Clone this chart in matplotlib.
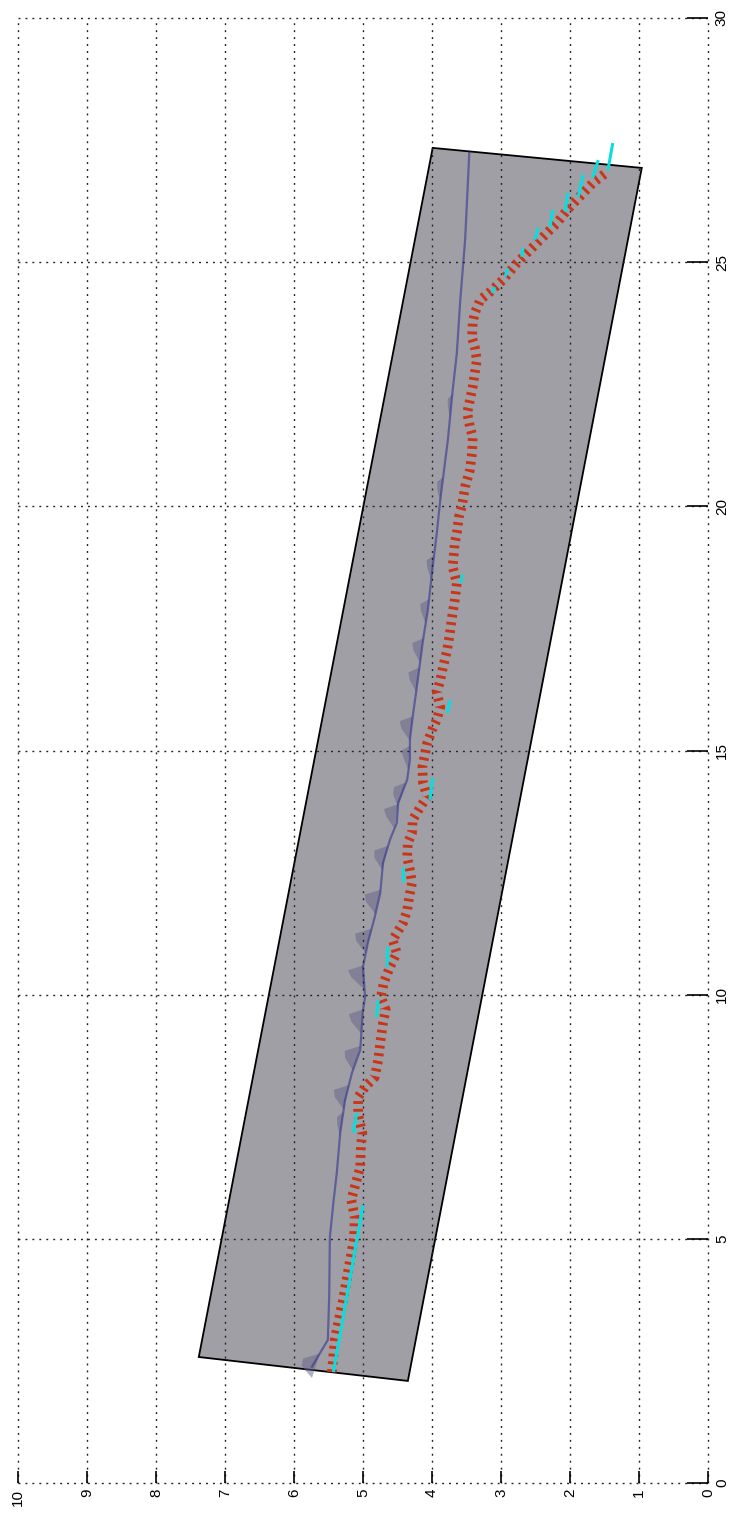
"""Rotated 3-D style profile chart (surface patch, trace and shadow)."""
import matplotlib.pyplot as plt
import numpy as np
from matplotlib.patches import Polygon

plt.rcParams["font.family"] = ["Liberation Sans", "DejaVu Sans"]

# gray surface patch corners (x along 0..30, y along 0..10)
patch_x = [2.58, 2.09, 26.93, 27.34]
patch_y = [7.38, 4.35, 0.96, 3.99]

# red dotted trace
red_x = [2.27, 2.93, 3.75, 4.46, 5.02, 5.45, 5.80, 6.06, 6.47, 6.88, 7.17, 7.54,
         7.90, 8.11, 8.31, 8.66, 9.01, 9.42, 9.69, 9.95, 10.24, 10.57, 10.85,
         11.12, 11.26, 11.47, 11.73, 12.00, 12.29, 12.55, 12.82, 13.11, 13.31,
         13.58, 13.84, 14.05, 14.34, 14.66, 14.95, 15.15, 15.42, 15.63, 15.89,
         16.18, 16.44, 16.71, 17.06, 17.41, 17.73, 18.08, 18.43, 18.76, 19.25,
         19.46, 19.78, 19.99, 20.40, 20.75, 21.09, 21.42, 21.63, 21.91, 22.18,
         22.45, 22.73, 23.00, 23.26, 23.45, 23.76, 23.96, 24.23, 24.39, 24.64,
         24.98, 25.25, 25.52, 25.80, 26.07, 26.34, 26.62, 26.85]
red_y = [5.45, 5.41, 5.29, 5.20, 5.13, 5.12, 5.17, 5.12, 5.04, 5.03, 5.01, 5.07,
         5.07, 4.97, 4.83, 4.78, 4.75, 4.71, 4.67, 4.74, 4.70, 4.61, 4.51,
         4.57, 4.51, 4.42, 4.36, 4.33, 4.29, 4.32, 4.36, 4.35, 4.29,
         4.28, 4.17, 4.07, 4.13, 4.14, 4.10, 4.07, 4.00, 3.93, 3.88,
         3.93, 3.88, 3.84, 3.78, 3.74, 3.71, 3.67, 3.64, 3.70, 3.67,
         3.64, 3.61, 3.57, 3.52, 3.45, 3.42, 3.41, 3.45, 3.49, 3.45,
         3.41, 3.38, 3.35, 3.38, 3.42, 3.41, 3.38, 3.30, 3.16, 2.97,
         2.77, 2.58, 2.39, 2.19, 2.04, 1.86, 1.67, 1.46]

# blue ridge line
blue_x = [2.38, 2.93, 3.81, 5.04, 5.73, 6.35, 7.17, 7.84, 8.40, 8.87, 9.69, 9.95,
          10.57, 11.06, 11.59, 12.08, 12.70, 13.17, 13.52, 13.93, 14.40, 14.81,
          15.22, 15.69, 16.30, 17.26, 17.88, 18.76, 19.46, 20.13, 21.36, 22.38,
          23.14, 24.23, 25.46, 26.62, 27.24]
blue_y = [5.74, 5.51, 5.49, 5.48, 5.43, 5.38, 5.33, 5.26, 5.16, 5.04, 5.00, 4.97,
          5.00, 4.93, 4.83, 4.75, 4.71, 4.61, 4.51, 4.49, 4.36, 4.32,
          4.32, 4.28, 4.22, 4.13, 4.06, 3.99, 3.93, 3.88, 3.77, 3.70,
          3.64, 3.59, 3.52, 3.48, 3.46]

# shadow bumps along the blue line
blob_x = [2.55, 7.5, 8.05, 8.85, 9.6, 10.5, 11.25, 12.05, 12.95, 13.8, 14.25,
          15.0, 15.6, 16.6, 17.2, 18.0, 18.9, 20.5, 22.2]
blob_amp = [0.2, 0.08, 0.2, 0.22, 0.2, 0.22, 0.22, 0.22, 0.18, 0.2, 0.15,
            0.12, 0.18, 0.15, 0.15, 0.12, 0.1, 0.08, 0.06]

# cyan segments: (x0, y0, x1, y1)
cyan_x0 = [2.27, 7.17, 9.54, 10.57, 12.31, 13.99, 15.77, 18.43,
           27.44, 27.09, 26.79, 26.42, 26.07, 25.70, 25.29, 24.88, 24.49]
cyan_y0 = [5.43, 5.14, 4.80, 4.65, 4.42, 4.03, 3.78, 3.59,
           1.38, 1.59, 1.81, 2.03, 2.25, 2.46, 2.68, 2.90, 3.09]
cyan_x1 = [5.69, 7.58, 9.89, 10.98, 12.62, 14.44, 16.03, 18.60,
           26.89, 26.73, 26.34, 26.03, 25.72, 25.46, 25.11, 24.70, 24.37]
cyan_y1 = [5.00, 5.09, 4.78, 4.64, 4.42, 3.99, 3.74, 3.56,
           1.45, 1.67, 1.88, 2.07, 2.29, 2.51, 2.70, 2.94, 3.13]

fig = plt.figure(figsize=(7.45, 15.13), dpi=100)
ax = fig.add_axes([18 / 745, 30 / 1513, 690 / 745, 1465 / 1513])

# surface patch
ax.add_patch(Polygon(np.column_stack([patch_y, patch_x]), closed=True,
                     facecolor="#a19fa6", edgecolor="black", lw=1.3, zorder=1))

# shadow bumps
bx = np.array(blue_x)
by = np.array(blue_y)
for xc, amp in zip(blob_x, blob_amp):
    xs = [xc - 0.4, xc - 0.15, xc, xc + 0.1]
    ys = [np.interp(xc - 0.4, bx, by), np.interp(xc - 0.15, bx, by) + amp * 0.8,
          np.interp(xc, bx, by) + amp, np.interp(xc + 0.1, bx, by)]
    ax.fill(ys, xs, color="#62628a", alpha=0.5, lw=0, zorder=2)

ax.plot(blue_y, blue_x, color="#34348e", lw=1.6, alpha=0.6, zorder=2.2)

ax.plot(red_y, red_x, color="#c8361a", lw=7, linestyle=(0, (0.3, 0.5)),
        dash_capstyle="butt", solid_capstyle="butt", zorder=3)

for x0, y0, x1, y1 in zip(cyan_x0, cyan_y0, cyan_x1, cyan_y1):
    ax.plot([y0, y1], [x0, x1], color="#08dede", lw=2.2,
            solid_capstyle="butt", zorder=4)

ax.set_xlim(10, 0)
ax.set_ylim(0, 30)
ax.set_xticks(np.arange(0, 11, 1))
ax.set_yticks(np.arange(0, 31, 5))
ax.yaxis.tick_right()
ax.xaxis.tick_bottom()
ax.tick_params(axis="x", direction="in", length=9, width=1.2, pad=4,
               labelsize=11, labelrotation=90)
ax.tick_params(axis="y", direction="in", length=15, width=1.2, pad=5,
               labelsize=11, labelrotation=90)
for lab in ax.get_yticklabels():
    lab.set_verticalalignment("center")

for side in ax.spines.values():
    side.set_visible(False)
ax.set_axisbelow(False)
ax.grid(True, color="#222222", lw=1.0, linestyle=(0, (1.4, 3.6)))
for gl in ax.get_xgridlines() + ax.get_ygridlines():
    gl.set_clip_on(False)

fig.savefig("out.png", dpi=100)
